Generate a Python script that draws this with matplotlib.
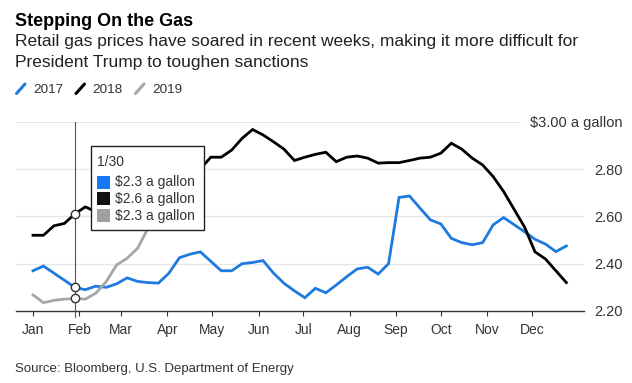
import numpy as np
import pandas as pd
import matplotlib
matplotlib.use('Agg')
import matplotlib.pyplot as plt
import matplotlib.dates as mdates
from matplotlib.patches import Rectangle
from matplotlib.lines import Line2D

plt.rcParams['font.family'] = ['Liberation Sans', 'DejaVu Sans']

# weekly retail gas prices, $ a gallon
gas_2017 = [2.37, 2.39, 2.36, 2.33, 2.30, 2.29, 2.305, 2.30, 2.315, 2.34, 2.325, 2.32, 2.318,
            2.36, 2.425, 2.44, 2.45, 2.41, 2.37, 2.37, 2.40, 2.405, 2.413, 2.36, 2.317, 2.285,
            2.256, 2.296, 2.277, 2.31, 2.345, 2.378, 2.385, 2.356, 2.40, 2.68, 2.686, 2.635,
            2.585, 2.568, 2.507, 2.489, 2.48, 2.489, 2.564, 2.595, 2.565, 2.535, 2.503, 2.483,
            2.451, 2.475]
gas_2018 = [2.52, 2.52, 2.56, 2.57, 2.61, 2.64, 2.62, 2.59, 2.58, 2.58, 2.57, 2.60, 2.65,
            2.69, 2.71, 2.76, 2.80, 2.85, 2.85, 2.88, 2.93, 2.967, 2.944, 2.915, 2.884, 2.836,
            2.85, 2.862, 2.871, 2.831, 2.85, 2.855, 2.846, 2.825, 2.827, 2.827, 2.836, 2.846,
            2.85, 2.867, 2.909, 2.884, 2.846, 2.817, 2.768, 2.705, 2.63, 2.555, 2.45, 2.42,
            2.37, 2.32]
gas_2019 = [2.268, 2.235, 2.245, 2.25, 2.253, 2.25, 2.275, 2.324, 2.395, 2.423, 2.465, 2.55,
            2.62, 2.69, 2.75, 2.80]

years = ['2017', '2018', '2019']
colors = ['#1f7ae0', '#000000', '#a6a6a6']
yticks = [2.2, 2.4, 2.6, 2.8, 3.0]
ylabels = ['2.20', '2.40', '2.60', '2.80', '$3.00 a gallon']
hover_idx = 4
hover_label = '1/30'

W, H = 632, 383


def fx(x):
    return x / W


def fy(y):
    return 1 - y / H


fig = plt.figure(figsize=(6.32, 3.83), dpi=100)
ax = fig.add_axes([fx(16), fy(311), fx(584) - fx(16), fy(121.7) - fy(311)])

weeks = pd.date_range('2018-01-01', periods=52, freq='7D')
series = [gas_2017, gas_2018, gas_2019]
for vals, c in zip(series, colors):
    ax.plot(weeks[:len(vals)], vals, color=c, lw=2.0, solid_joinstyle='miter', zorder=3)

x0 = mdates.date2num(pd.Timestamp('2018-01-01'))
ax.set_xlim(x0 - 17 / 1.494, x0 + 551 / 1.494)
ax.set_ylim(2.2, 3.0)

# grid
for v in yticks[1:-1]:
    ax.axhline(v, color='#e6e6e6', lw=1, zorder=0)
ax.axhline(3.0, xmax=(520 - 16) / 568, color='#e6e6e6', lw=1, zorder=0)

for s in ['top', 'left', 'right']:
    ax.spines[s].set_visible(False)
ax.spines['bottom'].set_color('#333333')
ax.spines['bottom'].set_linewidth(1)

ax.set_xticks(pd.date_range('2018-01-01', periods=12, freq='MS'))
ax.xaxis.set_major_formatter(mdates.DateFormatter('%b'))
ax.tick_params(axis='x', length=3.6, width=0.8, color='#333333', pad=5,
               labelsize=10, labelcolor='#333333')

ax.yaxis.tick_right()
ax.set_yticks(yticks)
ax.set_yticklabels(ylabels)
ax.tick_params(axis='y', length=0, pad=28, labelsize=10.5, labelcolor='#333333')
for lab in ax.get_yticklabels():
    lab.set_horizontalalignment('right')

# hover line and markers
hd = weeks[hover_idx]
ax.plot([hd, hd], [2.175, 3.0], color='#555555', lw=0.8, clip_on=False, zorder=4)
for vals in series:
    ax.plot(hd, vals[hover_idx], 'o', ms=6, mfc='white', mec='#333333', mew=1, zorder=5)

# tooltip
fig.add_artist(Rectangle((fx(90.7), fy(230)), fx(204) - fx(90.7), fy(146) - fy(230),
                         transform=fig.transFigure, facecolor='white', edgecolor='#222222',
                         lw=1, zorder=10))
fig.text(fx(96.5), fy(161.5), hover_label, va='center', fontsize=10, color='#333333', zorder=11)
for i, (vals, c) in enumerate(zip(series, ['#1479f5', '#111111', '#a0a0a0'])):
    yc = 182 + 17 * i
    fig.add_artist(Rectangle((fx(97), fy(yc + 6.5)), fx(13), 13 / H,
                             transform=fig.transFigure, facecolor=c, edgecolor='none', zorder=11))
    fig.text(fx(115), fy(yc), f'${vals[hover_idx]:.1f} a gallon', va='center', fontsize=10,
             color='#333333', zorder=11)

# titles
fig.text(fx(15), fy(26), 'Stepping On the Gas', fontsize=13, fontweight='bold', va='baseline')
fig.text(fx(15), fy(45.7), 'Retail gas prices have soared in recent weeks, making it more difficult for',
         fontsize=12.5, color='#222222', va='baseline')
fig.text(fx(15), fy(66.7), 'President Trump to toughen sanctions', fontsize=12.5, color='#222222',
         va='baseline')

# legend
leg_x = [16.5, 76, 135.5]
for lx, yr, c in zip(leg_x, years, colors):
    fig.add_artist(Line2D([fx(lx), fx(lx + 8.5)], [fy(93.5), fy(84)], transform=fig.transFigure,
                          color=c, lw=2.2, solid_capstyle='round'))
    fig.text(fx(lx + 16.5), fy(93.3), yr, fontsize=9.7, color='#333333', va='baseline')

fig.text(fx(15), fy(371.7), 'Source: Bloomberg, U.S. Department of Energy', fontsize=9.5,
         color='#333333', va='baseline')

fig.savefig('out.png', dpi=100)
